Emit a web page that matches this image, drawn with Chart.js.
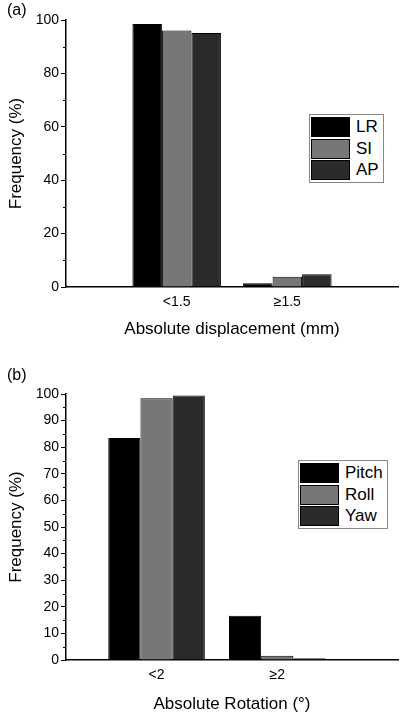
<!DOCTYPE html>
<html lang="en">
<head>
<meta charset="UTF-8">
<title>Frequency of displacement and rotation</title>
<script src="https://cdn.jsdelivr.net/npm/chart.js"></script>
<style>
    body { margin: 0; background: #fff; font-family: "Liberation Sans", Arial, sans-serif; }
    .panel { position: absolute; left: 0; width: 400px; }
    .tag { position: absolute; left: 7px; font-size: 16px; color: #000; }
    .legend { position: absolute; border: 1.5px solid #888; padding: 1px; background: #fff; }
    .legend .row { display: flex; align-items: center; height: 21.7px; }
    .legend .sw { width: 37px; height: 18px; border: 1px solid #000; margin-right: 6px; }
    .legend .txt { font-size: 17px; color: #000; line-height: 18px; padding-right: 3px; }
</style>
</head>
<body>
    <div class="panel" id="panelA" style="top:0;height:345px"><canvas id="chartA"></canvas></div>
    <div class="panel" id="panelB" style="top:345px;height:370px"><canvas id="chartB"></canvas></div>
    <div class="tag" style="top:1px">(a)</div>
    <div class="tag" style="top:366px">(b)</div>
    <div class="legend" id="legendA" style="left:309px;top:114px"></div>
    <div class="legend" id="legendB" style="left:298px;top:460px"></div>

<script>
// (a) translation
const dispCats = ['<1.5', '\u22651.5'];
const lrVals = [98.5, 1.4];
const siVals = [96.1, 3.8];
const apVals = [95.1, 4.8];

// (b) rotation
const rotCats = ['<2', '\u22652'];
const pitchVals = [83.5, 16.6];
const rollVals = [98.4, 1.6];
const yawVals = [99.4, 0.7];

const black = '#000000', grey = '#777777', dark = '#2b2b2b';
const font = 'Liberation Sans';

// short minor ticks between the labelled ones on the y axis
const minorTicks = {
    id: 'minorTicks',
    afterDraw(chart, args, opts) {
        const y = chart.scales.y, ctx = chart.ctx;
        ctx.save();
        ctx.strokeStyle = '#000';
        ctx.lineWidth = 1;
        for (let v = y.min; v <= y.max; v += opts.step) {
            if (v % opts.major === 0) continue;
            const py = Math.round(y.getPixelForValue(v)) + 0.5;
            ctx.beginPath();
            ctx.moveTo(y.right, py);
            ctx.lineTo(y.right - 3, py);
            ctx.stroke();
        }
        ctx.restore();
    }
};

function makeChart(id, cats, series, cfg) {
    const ds = series.map(s => ({
        label: s.label,
        data: s.vals.map((v, i) => ({ x: i + 1, y: v })),
        backgroundColor: s.color,
        borderColor: '#000',
        borderWidth: 1,
        barPercentage: 1,
        categoryPercentage: 0.8
    }));
    return new Chart(document.getElementById(id), {
        type: 'bar',
        data: { datasets: ds },
        options: {
            responsive: true,
            maintainAspectRatio: false,
            animation: false,
            layout: { padding: { top: cfg.top, left: 0, right: 2, bottom: 0 } },
            plugins: {
                legend: { display: false },
                tooltip: { enabled: false },
                minorTicks: { step: cfg.minor, major: cfg.major }
            },
            scales: {
                x: {
                    type: 'linear',
                    offset: false,
                    min: cfg.xmin,
                    max: 3,
                    afterBuildTicks: s => { s.ticks = cats.map((c, i) => ({ value: i + 1 })); },
                    afterFit: s => { s.height = cfg.xh; },
                    ticks: {
                        callback: (v, i) => cats[i],
                        font: { family: font, size: 14 },
                        color: '#000',
                        padding: 7,
                        maxRotation: 0
                    },
                    grid: { display: false, drawTicks: false, offset: false },
                    border: { display: true, color: '#000', width: 1.5 },
                    title: {
                        display: true,
                        text: cfg.xTitle,
                        font: { family: font, size: 17 },
                        color: '#000',
                        padding: { top: 0, bottom: cfg.xtp }
                    }
                },
                y: {
                    min: 0,
                    max: 100,
                    afterFit: s => { s.width = 66; },
                    ticks: {
                        stepSize: cfg.major,
                        font: { family: font, size: 14 },
                        color: '#000',
                        padding: 2
                    },
                    grid: { drawOnChartArea: false, drawTicks: true, tickLength: 5, color: '#000', lineWidth: 1 },
                    border: { display: true, color: '#000', width: 1.5 },
                    title: {
                        display: true,
                        text: 'Frequency (%)',
                        font: { family: font, size: 17 },
                        color: '#000',
                        padding: { top: 6, bottom: 0 }
                    }
                }
            }
        },
        plugins: [minorTicks]
    });
}

function buildLegend(id, series) {
    const box = document.getElementById(id);
    series.forEach(s => {
        const row = document.createElement('div');
        row.className = 'row';
        row.innerHTML = '<div class="sw" style="background:' + s.color + '"></div><span class="txt">' + s.label + '</span>';
        box.appendChild(row);
    });
}

const seriesA = [
    { label: 'LR', vals: lrVals, color: black },
    { label: 'SI', vals: siVals, color: grey },
    { label: 'AP', vals: apVals, color: dark }
];
const seriesB = [
    { label: 'Pitch', vals: pitchVals, color: black },
    { label: 'Roll', vals: rollVals, color: grey },
    { label: 'Yaw', vals: yawVals, color: dark }
];

makeChart('chartA', dispCats, seriesA, {
    top: 20, xmin: 0, xh: 58, xtp: 5, major: 20, minor: 10,
    xTitle: 'Absolute displacement (mm)'
});
makeChart('chartB', rotCats, seriesB, {
    top: 49, xmin: 0.25, xh: 55, xtp: 0, major: 10, minor: 5,
    xTitle: 'Absolute Rotation (\u00b0)'
});
buildLegend('legendA', seriesA);
buildLegend('legendB', seriesB);
</script>
</body>
</html>
